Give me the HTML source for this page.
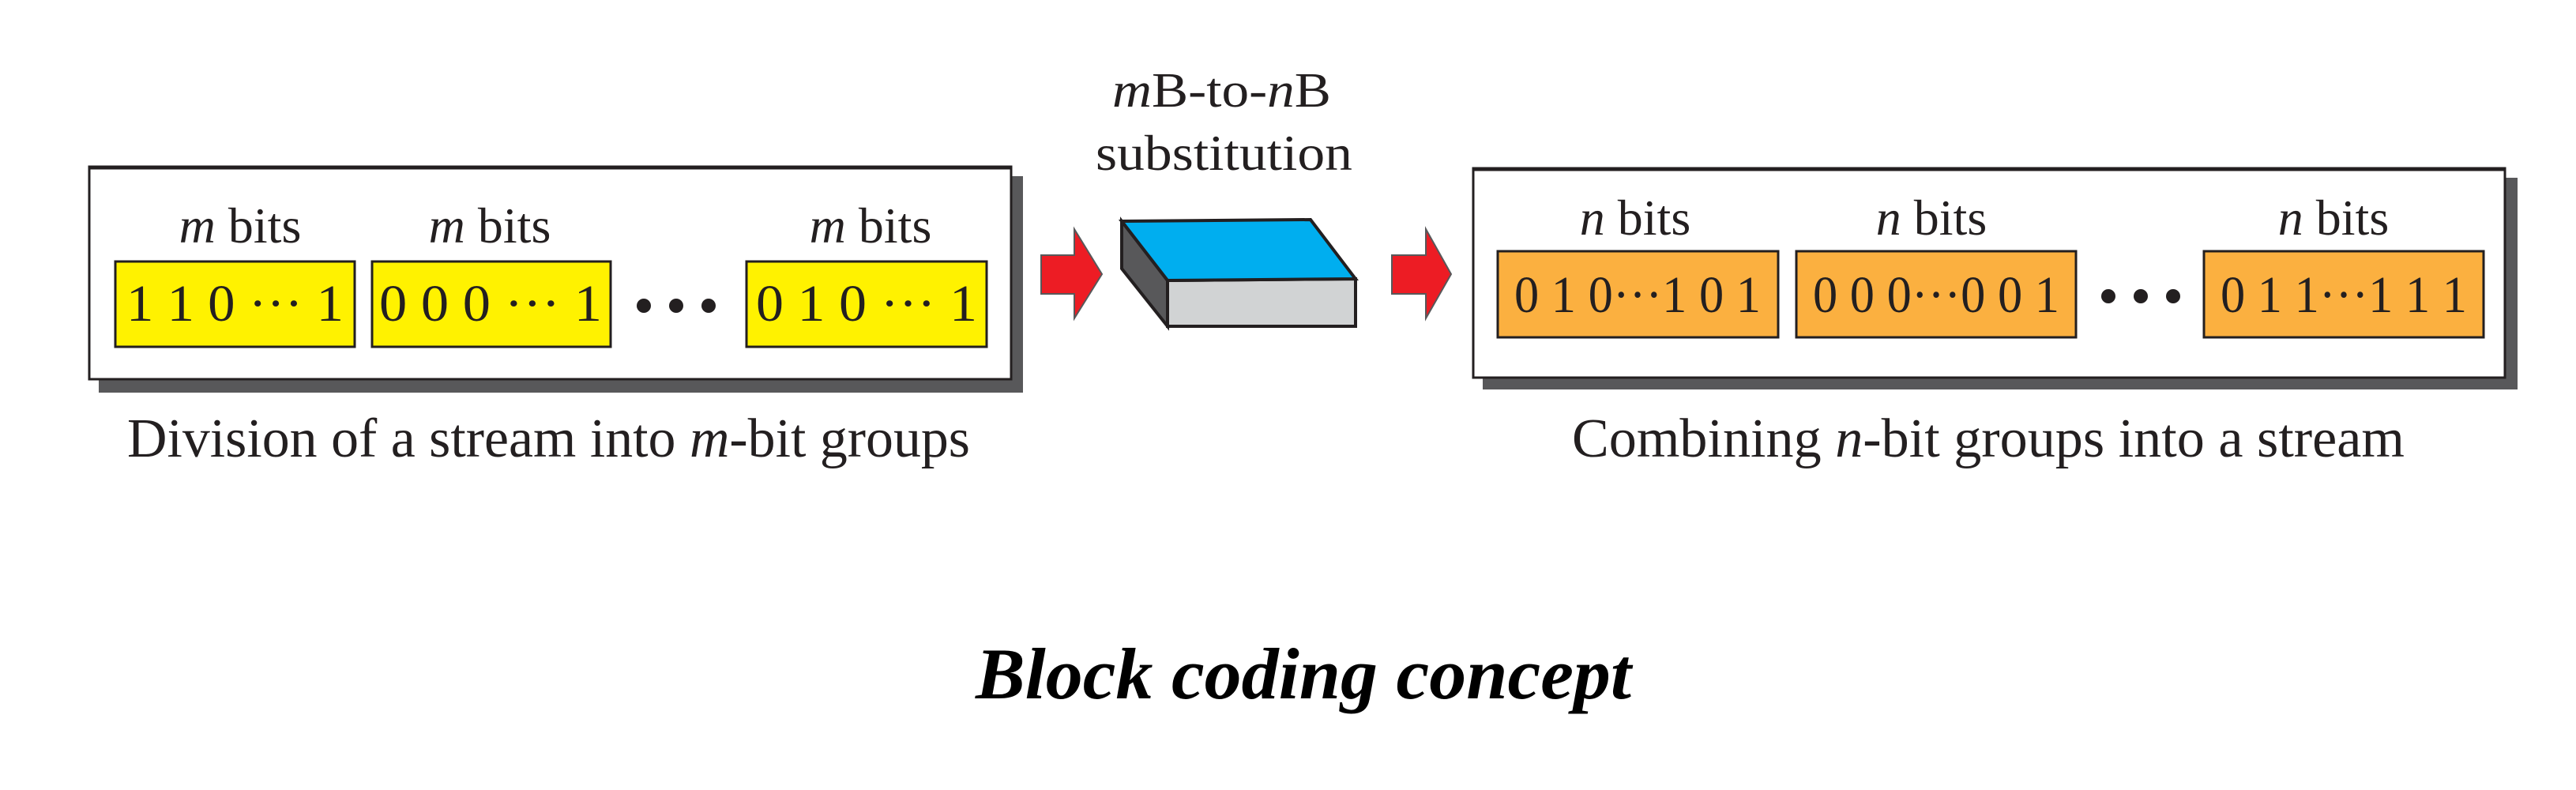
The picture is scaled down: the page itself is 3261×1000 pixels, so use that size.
<!DOCTYPE html>
<html><head><style>body{margin:0;background:#fff}svg{display:block}</style></head><body>
<svg width="3261" height="1000" viewBox="0 0 3261 1000" xmlns="http://www.w3.org/2000/svg" font-family="Liberation Serif, serif" fill="#231f20">
<!-- left box -->
<rect x="125" y="223" width="1170" height="274" fill="#58585a"/>
<rect x="113" y="211" width="1167" height="269" fill="#fff" stroke="#231f20" stroke-width="3"/>
<line x1="113" y1="212" x2="1280" y2="212" stroke="#231f20" stroke-width="5"/>
<g font-size="64">
<text x="304" y="307" text-anchor="middle"><tspan font-style="italic">m</tspan> bits</text>
<text x="620" y="307" text-anchor="middle"><tspan font-style="italic">m</tspan> bits</text>
<text x="1102" y="307" text-anchor="middle"><tspan font-style="italic">m</tspan> bits</text>
</g>
<g fill="#fff200" stroke="#231f20" stroke-width="3">
<rect x="146" y="331" width="303" height="108"/>
<rect x="471" y="331" width="302" height="108"/>
<rect x="945" y="331" width="304" height="108"/>
</g>
<g font-size="66">
<text x="160" y="406" textLength="275" lengthAdjust="spacingAndGlyphs">1 1 0 ··· 1</text>
<text x="480" y="406" textLength="282" lengthAdjust="spacingAndGlyphs">0 0 0 ··· 1</text>
<text x="957" y="406" textLength="280" lengthAdjust="spacingAndGlyphs">0 1 0 ··· 1</text>
</g>
<circle cx="815" cy="387" r="9"/><circle cx="856" cy="387" r="9"/><circle cx="897" cy="387" r="9"/>
<text x="161" y="578" font-size="70" textLength="1067" lengthAdjust="spacingAndGlyphs">Division of a stream into <tspan font-style="italic">m</tspan>-bit groups</text>
<!-- arrow 1 -->
<polygon points="1318,323 1360,323 1360,290 1395,347 1360,403 1360,372 1318,372" fill="#ed1c24" stroke="#58585a" stroke-width="2"/>
<!-- block -->
<polygon points="1420,280 1478,355 1478,413 1420,340" fill="#58585a" stroke="#231f20" stroke-width="4"/>
<polygon points="1478,355 1716,353 1716,413 1478,413" fill="#d1d3d4" stroke="#231f20" stroke-width="4"/>
<polygon points="1420,280 1659,278 1716,353 1478,355" fill="#00aeef" stroke="#231f20" stroke-width="4"/>
<text x="1408" y="135" font-size="62" textLength="277" lengthAdjust="spacingAndGlyphs"><tspan font-style="italic">m</tspan>B-to-<tspan font-style="italic">n</tspan>B</text>
<text x="1387" y="215" font-size="64" textLength="325" lengthAdjust="spacingAndGlyphs">substitution</text>
<!-- arrow 2 -->
<polygon points="1762,323 1805,323 1805,290 1837,347 1805,403 1805,372 1762,372" fill="#ed1c24" stroke="#58585a" stroke-width="2"/>
<!-- right box -->
<rect x="1877" y="225" width="1310" height="268" fill="#58585a"/>
<rect x="1865" y="213" width="1306" height="265" fill="#fff" stroke="#231f20" stroke-width="3"/>
<line x1="1865" y1="214" x2="3171" y2="214" stroke="#231f20" stroke-width="5"/>
<g font-size="64">
<text x="2070" y="297" text-anchor="middle"><tspan font-style="italic">n</tspan> bits</text>
<text x="2445" y="297" text-anchor="middle"><tspan font-style="italic">n</tspan> bits</text>
<text x="2954" y="297" text-anchor="middle"><tspan font-style="italic">n</tspan> bits</text>
</g>
<g fill="#fbb040" stroke="#231f20" stroke-width="3">
<rect x="1896" y="318" width="355" height="109"/>
<rect x="2274" y="318" width="354" height="109"/>
<rect x="2790" y="318" width="354" height="109"/>
</g>
<g font-size="66">
<text x="1917" y="395" textLength="312" lengthAdjust="spacingAndGlyphs">0 1 0···1 0 1</text>
<text x="2295" y="395" textLength="312" lengthAdjust="spacingAndGlyphs">0 0 0···0 0 1</text>
<text x="2811" y="395" textLength="312" lengthAdjust="spacingAndGlyphs">0 1 1···1 1 1</text>
</g>
<circle cx="2669" cy="375" r="9"/><circle cx="2710" cy="375" r="9"/><circle cx="2751" cy="375" r="9"/>
<text x="1990" y="578" font-size="70" textLength="1054" lengthAdjust="spacingAndGlyphs">Combining <tspan font-style="italic">n</tspan>-bit groups into a stream</text>
<text x="1235" y="884" font-size="92" font-weight="bold" font-style="italic" textLength="830" lengthAdjust="spacingAndGlyphs" fill="#000">Block coding concept</text>
</svg>
</body></html>
